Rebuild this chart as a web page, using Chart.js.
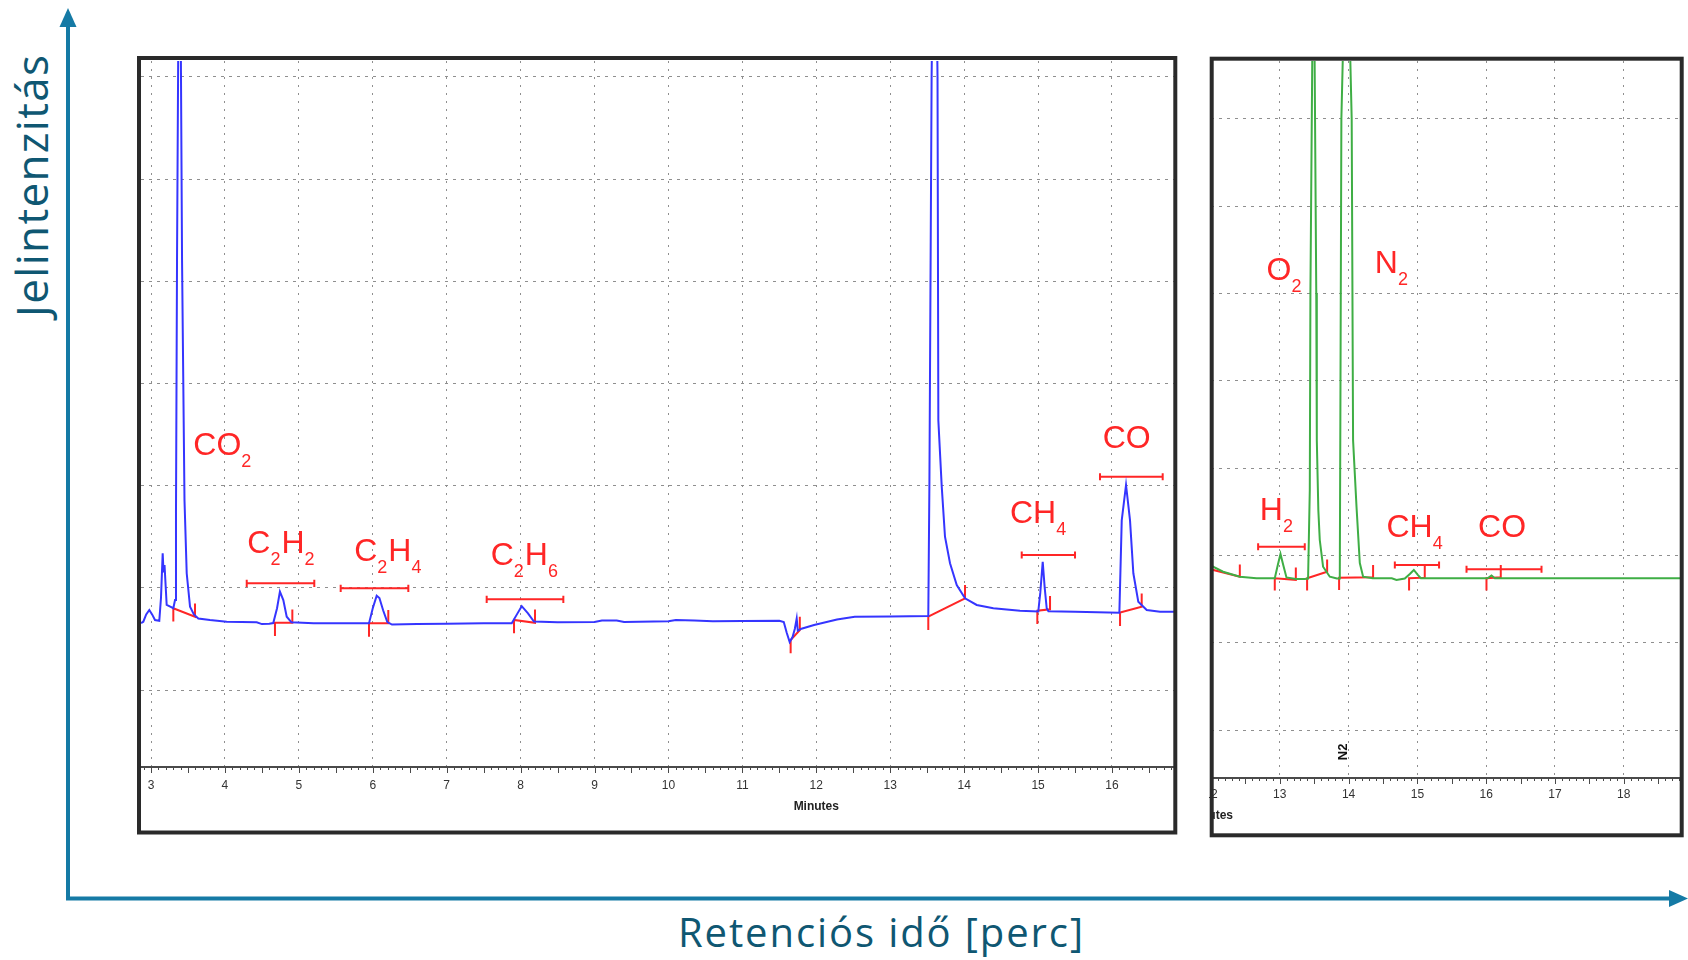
<!DOCTYPE html>
<html>
<head>
<meta charset="utf-8">
<title>Kromatogram</title>
<script src="https://cdn.jsdelivr.net/npm/chart.js@4.4.1/dist/chart.umd.min.js"></script>
<style>
  html, body { margin: 0; padding: 0; background: #fff; }
  body { width: 1688px; height: 960px; position: relative; overflow: hidden; }
  #decor { position: absolute; left: 0; top: 0; }
  .panel { position: absolute; }
  #leftBox { left: 136px; top: 56px; width: 1044px; height: 780px; }
  #rightBox { left: 1209px; top: 56px; width: 476px; height: 782px; }
</style>
</head>
<body>
<svg id="decor" width="1688" height="960">
  <line x1="68" y1="900" x2="68" y2="24" stroke="#157aa5" stroke-width="4"/>
  <polygon points="68,8 59.5,27 76.5,27" fill="#157aa5"/>
  <line x1="66" y1="898.5" x2="1671" y2="898.5" stroke="#157aa5" stroke-width="4"/>
  <polygon points="1688,898.5 1669,890 1669,907" fill="#157aa5"/>
  <text x="678" y="946.5" font-family="Open Sans" font-size="40" fill="#0f5772"
        textLength="405" lengthAdjust="spacing">Retenciós idő [perc]</text>
  <text transform="translate(48,317) rotate(-90)" font-family="Open Sans" font-size="44" fill="#0f5772"
        textLength="262" lengthAdjust="spacing">Jelintenzitás</text>
</svg>
<div class="panel" id="leftBox"><canvas id="leftChart"></canvas></div>
<div class="panel" id="rightBox"><canvas id="rightChart"></canvas></div>

<script>
// ---- bal panel: kék jel ----
const blueTime = [2.865, 2.896, 2.935, 2.977, 3.015, 3.054, 3.112, 3.135, 3.158, 3.17, 3.183, 3.212, 3.26, 3.302,
  3.325, 3.338, 3.352, 3.386, 3.42, 3.453, 3.483, 3.528, 3.58, 3.64, 3.798, 4.024, 4.43, 4.5, 4.6, 4.654,
  4.705, 4.744, 4.79, 4.836, 4.9, 5.2, 5.6, 5.949, 6.0, 6.053, 6.09, 6.14, 6.197, 6.26, 6.6, 7.0, 7.5, 7.88,
  7.95, 8.015, 8.1, 8.18, 8.5, 9.0, 9.1, 9.3, 9.4, 10.0, 10.1, 10.35, 10.6, 11.0, 11.5, 11.56, 11.6, 11.64,
  11.68, 11.71, 11.735, 11.75, 11.8, 11.97, 12.28, 12.52, 13.0, 13.515, 13.53, 13.56, 13.6, 13.64, 13.651,
  13.697, 13.741, 13.809, 13.9, 14.012, 14.17, 14.395, 14.756, 15.003, 15.03, 15.063, 15.09, 15.117, 15.14,
  15.5, 16.1, 16.132, 16.19, 16.244, 16.289, 16.356, 16.47, 16.65, 16.84];
const blueSignal = [0.655, 0.668, 0.74, 0.783, 0.74, 0.685, 0.678, 0.9, 1.338, 1.15, 1.223, 0.832, 0.815, 0.8,
  0.88, 1.73, 4.2, 8.5, 4.2, 1.86, 1.142, 0.815, 0.74, 0.7, 0.685, 0.668, 0.662, 0.645, 0.648, 0.655,
  0.8, 0.962, 0.88, 0.717, 0.662, 0.652, 0.652, 0.652, 0.8, 0.923, 0.9, 0.78, 0.665, 0.64, 0.645, 0.648, 0.652, 0.652,
  0.74, 0.82, 0.75, 0.67, 0.662, 0.665, 0.68, 0.68, 0.666, 0.672, 0.685, 0.68, 0.673, 0.675, 0.678, 0.665, 0.56, 0.47,
  0.52, 0.6, 0.7, 0.58, 0.6, 0.636, 0.69, 0.717, 0.72, 0.724, 2.0, 6.0, 8.5, 6.0, 2.64,
  1.99, 1.5, 1.24, 1.027, 0.897, 0.832, 0.8, 0.776, 0.768, 0.95, 1.255, 1.0, 0.8, 0.77,
  0.766, 0.757, 1.66, 2.006, 1.66, 1.142, 0.864, 0.783, 0.766, 0.766];

// ---- jobb panel: zöld jel ----
const greenTime = [12.0, 12.03, 12.176, 12.419, 12.661, 12.927, 12.971, 13.01, 13.05, 13.097, 13.233, 13.363,
  13.411, 13.436, 13.445, 13.49, 13.53, 13.538, 13.56, 13.581, 13.629, 13.727, 13.83, 13.872, 13.88, 13.895,
  13.97, 14.045, 14.065, 14.115, 14.163, 14.211, 14.35, 14.628, 14.696, 14.817, 14.89, 14.948, 15.006, 15.05,
  16.02, 16.077, 16.125, 18.82];
const greenSignal = [1.9, 1.87, 1.813, 1.756, 1.738, 1.738, 1.89, 2.016, 1.89, 1.747, 1.73, 1.73,
  1.735, 2.75, 5.0, 9.5, 5.0, 3.32, 2.52, 2.176, 1.87, 1.756, 1.735, 1.735, 3.5, 7.0,
  9.5, 7.0, 3.32, 2.558, 1.913, 1.756, 1.738, 1.738, 1.718, 1.735, 1.787, 1.833, 1.776, 1.738,
  1.738, 1.77, 1.738, 1.738];

// tengelyek
const leftMinutes = [3, 4, 5, 6, 7, 8, 9, 10, 11, 12, 13, 14, 15, 16];
const rightMinutes = [12, 13, 14, 15, 16, 17, 18];
const leftLevels = [0, 1, 2, 3, 4, 5, 6];
const rightLevels = [0, 1, 2, 3, 4, 5, 6, 7];

// csúcsnevek (számjegy = alsó index)
const leftNames = ["CO2", "C2H2", "C2H4", "C2H6", "CH4", "CO"];
const leftNameX = [3.572, 4.303, 5.749, 7.595, 14.62, 15.874];
const leftNameY = [2.30, 1.34, 1.262, 1.223, 1.63, 2.365];
const rightNames = ["O2", "N2", "H2", "CH4", "CO"];
const rightNameX = [12.807, 14.381, 12.709, 14.551, 15.882];
const rightNameY = [5.155, 5.231, 2.405, 2.214, 2.21];

// integrálási ablakok (vízszintes zárójelek)
const leftWinFrom = [4.295, 5.566, 7.541, 14.779, 15.838];
const leftWinTo = [5.209, 6.481, 8.578, 15.5, 16.686];
const leftWinLevel = [1.044, 0.995, 0.887, 1.321, 2.087];
const rightWinFrom = [12.685, 14.672, 15.714];
const rightWinTo = [13.363, 15.315, 16.804];
const rightWinLevel = [2.10, 1.89, 1.841];

// alapvonalak: csúcs kezdete / vége
const leftBaseX0 = [3.302, 4.677, 5.949, 7.911, 11.653, 13.515, 14.99, 16.109];
const leftBaseY0 = [0.80, 0.658, 0.652, 0.685, 0.489, 0.717, 0.776, 0.757];
const leftBaseX1 = [3.595, 4.912, 6.21, 8.195, 11.777, 14.012, 15.162, 16.402];
const leftBaseY1 = [0.717, 0.658, 0.652, 0.658, 0.587, 0.897, 0.79, 0.815];
const rightBaseX0 = [11.95, 12.927, 13.397, 13.862, 14.879, 16.004];
const rightBaseY0 = [1.85, 1.738, 1.738, 1.745, 1.738, 1.738];
const rightBaseX1 = [12.419, 13.233, 13.688, 14.356, 15.107, 16.212];
const rightBaseY1 = [1.756, 1.72, 1.813, 1.75, 1.745, 1.75];

const RED = "#ff2626";
const GRID = "#8f8f8f";

function toPoints(xs, ys) {
  return xs.map((x, i) => ({ x: x, y: ys[i] }));
}

// piros jelölések egyetlen megszakított vonalként
function marks(x0, y0, x1, y1, wFrom, wTo, wLvl, tick, cap) {
  const pts = [];
  x0.forEach((x, i) => {
    pts.push({ x: x, y: y0[i] - tick }, { x: x, y: y0[i] }, { x: x1[i], y: y1[i] },
      { x: x1[i], y: y1[i] + tick }, { x: x1[i], y: null });
  });
  wFrom.forEach((a, i) => {
    const b = wTo[i], l = wLvl[i];
    pts.push({ x: a, y: l - cap }, { x: a, y: l + cap }, { x: a, y: l }, { x: b, y: l },
      { x: b, y: l + cap }, { x: b, y: l - cap }, { x: b, y: null });
  });
  return pts;
}

function drawFormula(ctx, text, x, y) {
  let cx = x;
  for (const ch of text) {
    const sub = /\d/.test(ch);
    ctx.font = sub ? '18px "Liberation Sans", Arial, sans-serif' : '32px "Liberation Sans", Arial, sans-serif';
    ctx.fillText(ch, cx, sub ? y + 12 : y);
    cx += ctx.measureText(ch).width + (sub ? 1 : 0);
  }
}

function decor(o) {
  return {
    id: "decor",
    afterDatasetsDraw(chart) {
      const { ctx, chartArea } = chart;
      const x = chart.scales.x, y = chart.scales.y;
      ctx.save();
      // csúcsnevek
      ctx.fillStyle = RED;
      ctx.textAlign = "left";
      ctx.textBaseline = "alphabetic";
      o.names.forEach((n, i) => drawFormula(ctx, n, x.getPixelForValue(o.nameX[i]), y.getPixelForValue(o.nameY[i])));
      // vonalzó osztásai
      ctx.strokeStyle = "#4a4a4a";
      ctx.lineWidth = 1;
      for (let k = Math.ceil(x.min * 10); k <= Math.floor(x.max * 10); k++) {
        const px = Math.round(x.getPixelForValue(k / 10)) + 0.5;
        const len = k % 5 === 0 ? 6 : 3;
        ctx.beginPath();
        ctx.moveTo(px, chartArea.bottom);
        ctx.lineTo(px, chartArea.bottom + len);
        ctx.stroke();
      }
      // "Minutes" felirat
      ctx.fillStyle = "#222";
      ctx.font = 'bold 12px "Liberation Sans", Arial, sans-serif';
      ctx.textBaseline = "middle";
      ctx.textAlign = o.caption.align;
      ctx.save();
      if (o.caption.clip) {
        ctx.beginPath();
        ctx.rect(chartArea.left + 2, 0, chart.width, chart.height);
        ctx.clip();
      }
      ctx.fillText("Minutes", x.getPixelForValue(o.caption.at), chartArea.bottom + o.caption.dy);
      ctx.restore();
      // függőleges csúcsnév (N2)
      if (o.vertical) {
        ctx.save();
        ctx.translate(x.getPixelForValue(o.vertical.x), y.getPixelForValue(o.vertical.y));
        ctx.rotate(-Math.PI / 2);
        ctx.fillStyle = "#111";
        ctx.font = 'bold 13px "Liberation Sans", Arial, sans-serif';
        ctx.textAlign = "center";
        ctx.textBaseline = "middle";
        ctx.fillText(o.vertical.text, 0, 0);
        ctx.restore();
      }
      // keret
      ctx.strokeStyle = "#2a2a2a";
      ctx.lineWidth = 4;
      ctx.strokeRect(o.frame[0], o.frame[1], o.frame[2], o.frame[3]);
      ctx.restore();
    }
  };
}

function panelChart(id, o) {
  return new Chart(document.getElementById(id), {
    type: "line",
    data: {
      datasets: [
        { data: o.trace, borderColor: o.color, borderWidth: 2, pointRadius: 0, tension: 0 },
        { data: o.marks, borderColor: RED, borderWidth: 2, pointRadius: 0, tension: 0, spanGaps: false }
      ]
    },
    options: {
      responsive: true,
      maintainAspectRatio: false,
      animation: false,
      layout: { padding: o.padding },
      plugins: { legend: { display: false }, tooltip: { enabled: false } },
      scales: {
        x: {
          type: "linear",
          min: o.xMin,
          max: o.xMax,
          afterBuildTicks: (s) => { s.ticks = o.minutes.map((v) => ({ value: v })); },
          afterFit: (s) => { s.height = o.axisHeight; s.paddingLeft = 0; s.paddingRight = 0; },
          grid: { color: GRID, lineWidth: 1, drawTicks: false },
          border: { display: true, color: "#4a4a4a", width: 2, dash: [2, 6] },
          ticks: {
            padding: o.tickPad,
            color: "#333",
            font: { family: "Liberation Sans", size: 12 },
            maxRotation: 0,
            autoSkip: false
          }
        },
        y: {
          type: "linear",
          min: o.yMin,
          max: o.yMax,
          afterBuildTicks: (s) => { s.ticks = o.levels.map((v) => ({ value: v })); },
          afterFit: (s) => { s.width = 0; s.paddingTop = 0; s.paddingBottom = 0; },
          grid: { color: GRID, lineWidth: 1, drawTicks: false },
          border: { display: false, dash: [3, 5] },
          ticks: { display: false }
        }
      }
    },
    plugins: [decor(o)]
  });
}

panelChart("leftChart", {
  trace: toPoints(blueTime, blueSignal),
  color: "#3535ff",
  marks: marks(leftBaseX0, leftBaseY0, leftBaseX1, leftBaseY1, leftWinFrom, leftWinTo, leftWinLevel, 0.13, 0.035),
  minutes: leftMinutes,
  levels: leftLevels,
  xMin: 2.8647, xMax: 16.839,
  yMin: -0.7534, yMax: 6.1546,
  padding: { left: 5, top: 5, right: 6, bottom: 0 },
  axisHeight: 69,
  tickPad: 11,
  names: leftNames, nameX: leftNameX, nameY: leftNameY,
  caption: { at: 12.0, align: "center", dy: 40, clip: false },
  frame: [3, 2, 1036.3, 774.5]
});

panelChart("rightChart", {
  trace: toPoints(greenTime, greenSignal),
  color: "#3fae45",
  marks: marks(rightBaseX0, rightBaseY0, rightBaseX1, rightBaseY1, rightWinFrom, rightWinTo, rightWinLevel, 0.14, 0.04),
  minutes: rightMinutes,
  levels: rightLevels,
  xMin: 12, xMax: 18.817,
  yMin: -0.5498, yMax: 7.663,
  padding: { left: 2, top: 5, right: 5, bottom: 0 },
  axisHeight: 60,
  tickPad: 9,
  names: rightNames, nameX: rightNameX, nameY: rightNameY,
  caption: { at: 12.32, align: "right", dy: 38, clip: true },
  vertical: { text: "N2", x: 13.93, y: -0.25 },
  frame: [2.7, 2.7, 470, 776.6]
});
</script>
</body>
</html>
